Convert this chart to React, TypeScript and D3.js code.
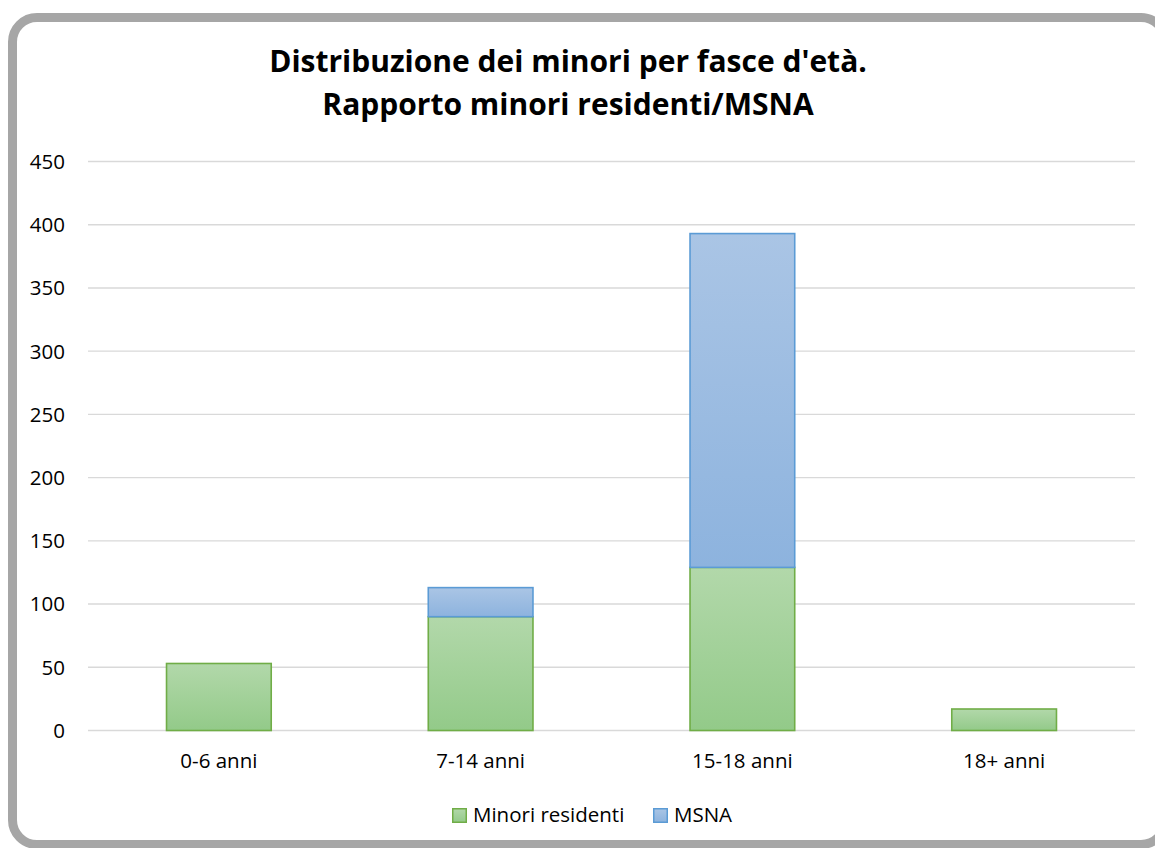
import React from "react";
import * as d3 from "d3";

// Age bands and stacked counts
const categories = ["0-6 anni", "7-14 anni", "15-18 anni", "18+ anni"];
const residenti = [53, 90, 129, 17];
const msna = [0, 23, 264, 0];
const seriesNames = ["Minori residenti", "MSNA"];
const yTicks = [0, 50, 100, 150, 200, 250, 300, 350, 400, 450];
const titleLines = ["Distribuzione dei minori per fasce d'età.", "Rapporto minori residenti/MSNA"];

const W = 1155;
const H = 848;
const FONT = "'Open Sans', 'Noto Sans', sans-serif";

const seriesStyle = [
  { grad: "gradGreen", top: "#b2d8aa", bottom: "#93ca89", stroke: "#70ad47" },
  { grad: "gradBlue", top: "#aac5e5", bottom: "#8db3de", stroke: "#5b9bd5" },
];

export default function App() {
  const rows = categories.map((c, i) => ({ cat: c, r: residenti[i], m: msna[i] }));
  const stack = d3.stack<any>().keys(["r", "m"]);
  const layers = stack(rows);

  const x = d3
    .scaleBand<string>()
    .domain(categories)
    .range([88, 1135])
    .paddingInner(0.6)
    .paddingOuter(0.3);
  const y = d3.scaleLinear().domain([0, 450]).range([730.5, 161.5]);

  return (
    <svg
      width={W}
      height={H}
      style={{ position: "absolute", left: 0, top: 0, display: "block", background: "#fff" }}
      fontFamily={FONT}
    >
      <defs>
        {seriesStyle.map((s) => (
          <linearGradient key={s.grad} id={s.grad} x1="0" y1="0" x2="0" y2="1">
            <stop offset="0" stopColor={s.top} />
            <stop offset="1" stopColor={s.bottom} />
          </linearGradient>
        ))}
      </defs>

      {/* rounded chart frame */}
      <rect x={12.5} y={17.5} width={1153} height={827} rx={24.5} ry={24.5} fill="#fff" stroke="#a6a6a6" strokeWidth={9} />

      {/* title */}
      {titleLines.map((t, i) => (
        <text key={i} x={568} y={72 + i * 43} textAnchor="middle" fontSize={30} fontWeight={700} fill="#000">
          {t}
        </text>
      ))}

      {/* gridlines and y tick labels */}
      {yTicks.map((t) => (
        <g key={t}>
          <line x1={88} x2={1135} y1={y(t)} y2={y(t)} stroke="#d9d9d9" strokeWidth={1.4} />
          <text x={65} y={y(t)} dy="0.36em" textAnchor="end" fontSize={20.5} fill="#000">
            {t}
          </text>
        </g>
      ))}

      {/* stacked bars */}
      {layers.map((layer, li) =>
        layer.map((d, i) => {
          const v = d[1] - d[0];
          if (v <= 0) return null;
          const x0 = x(categories[i]) as number;
          return (
            <rect
              key={`${li}-${i}`}
              x={x0}
              y={y(d[1])}
              width={x.bandwidth()}
              height={y(d[0]) - y(d[1])}
              fill={`url(#${seriesStyle[li].grad})`}
              stroke={seriesStyle[li].stroke}
              strokeWidth={1.6}
            />
          );
        })
      )}

      {/* category labels */}
      {categories.map((c) => (
        <text key={c} x={(x(c) as number) + x.bandwidth() / 2} y={768} textAnchor="middle" fontSize={20.5} fill="#000">
          {c}
        </text>
      ))}

      {/* legend */}
      {seriesNames.map((n, i) => {
        const lx = [452, 653][i];
        return (
          <g key={n} transform={`translate(${lx},808)`}>
            <rect x={0.75} y={0.75} width={13.5} height={13.5} fill={`url(#${seriesStyle[i].grad})`} stroke={seriesStyle[i].stroke} strokeWidth={1.5} />
            <text x={21} y={14} fontSize={20.5} fill="#000">
              {n}
            </text>
          </g>
        );
      })}
    </svg>
  );
}
